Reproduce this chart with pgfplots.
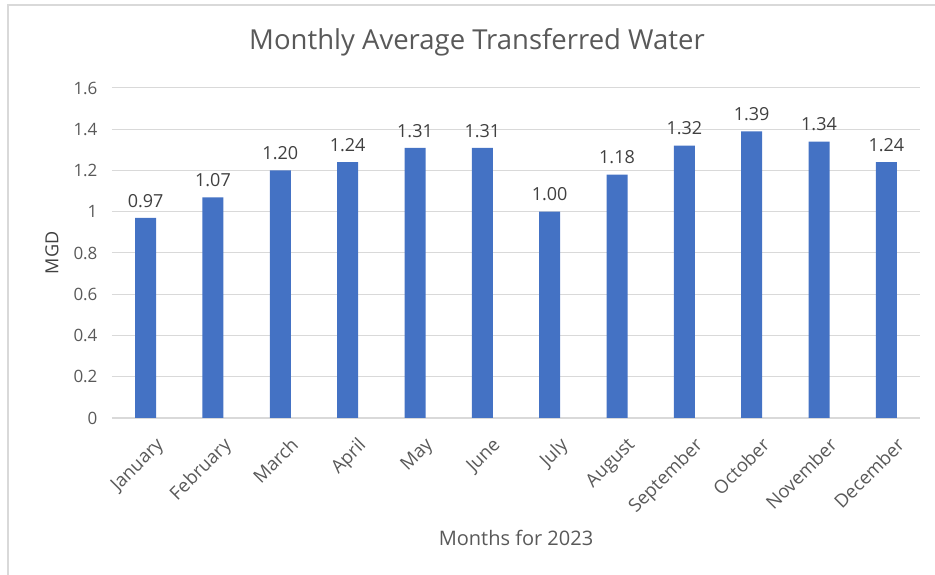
\documentclass[border=0pt]{standalone}
\usepackage{pgfplots}
\pgfplotsset{compat=1.18}
\usepackage{fontspec}
\setmainfont{Open Sans}
\definecolor{barblue}{HTML}{4472C4}
\definecolor{gridgray}{HTML}{D9D9D9}
\definecolor{ticktext}{HTML}{595959}
\definecolor{labeltext}{HTML}{404040}
\begin{document}
\begin{tikzpicture}
\path[use as bounding box] (-112pt,-157pt) rectangle (823pt,418pt);
\draw[gridgray, line width=1.5pt] (-104pt,-157pt) -- (-104pt,413pt) -- (823pt,413pt);
\begin{axis}[
  scale only axis,
  width=808pt, height=330pt,
  at={(0pt,0pt)}, anchor=south west,
  xmin=-0.5, xmax=11.5,
  ymin=0, ymax=1.6,
  ytick={0,0.2,...,1.6},
  xtick={0,...,11},
  xticklabels={January,February,March,April,May,June,July,August,September,October,November,December},
  x tick label style={rotate=45, anchor=north east, font=\fontsize{18.5}{18.5}\selectfont, text=ticktext, xshift=-3pt, yshift=-16pt},
  y tick label style={font=\fontsize{17}{17}\selectfont, text=ticktext},
  /pgf/number format/assume math mode=true,
  yticklabel style={/pgf/number format/fixed},
  major tick length=0pt,
  ymajorgrids,
  grid style={gridgray, line width=1pt},
  axis x line*=bottom,
  axis y line*=left,
  y axis line style={draw=none},
  x axis line style={gridgray, line width=1.5pt, -},
  ylabel={MGD},
  ylabel style={font=\fontsize{18}{18}\selectfont, text=labeltext, at={(axis description cs:-0.0743,0.5)}, anchor=center},
  xlabel={Months for 2023},
  xlabel style={font=\fontsize{20}{20}\selectfont, text=ticktext, at={(axis description cs:0.5,-0.3636)}, anchor=center},
  ybar, bar width=21pt,
  nodes near coords,
  nodes near coords style={font=\fontsize{18}{18}\selectfont, text=labeltext, yshift=7pt},
  nodes near coords={\pgfmathprintnumber[fixed, fixed zerofill, precision=2, assume math mode=true]{\pgfplotspointmeta}},
  clip=false,
  yticklabel shift=11pt,
]
\addplot[fill=barblue, draw=none] coordinates {
(0,0.97) (1,1.07) (2,1.20) (3,1.24) (4,1.31) (5,1.31) (6,1.00) (7,1.18) (8,1.32) (9,1.39) (10,1.34) (11,1.24)
};
\end{axis}
\node[font=\fontsize{27.5}{27.5}\selectfont, text=ticktext] at (365pt,376pt) {Monthly Average Transferred Water};
\end{tikzpicture}
\end{document}
